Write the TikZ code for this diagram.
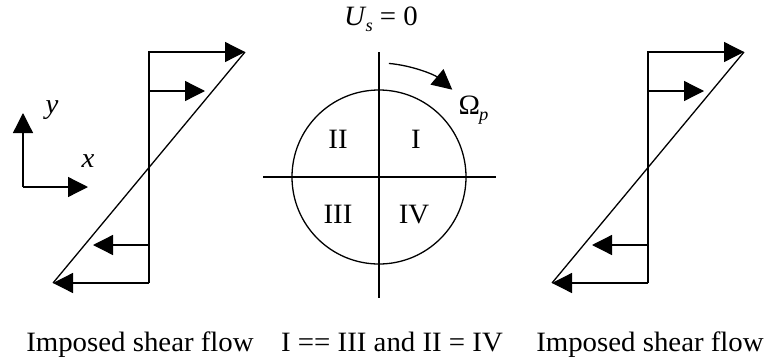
\documentclass[tikz,border=0pt]{standalone}
\usepackage{fontspec}
\setmainfont[FakeStretch=1.03]{Liberation Serif}
\usetikzlibrary{arrows.meta,calc}
\begin{document}
\begin{tikzpicture}[x=1pt,y=-1pt,line width=1.3pt,
  tip/.style={-{Triangle[length=20pt,width=20pt]}},
  lbl/.style={font=\fontsize{28}{30}\selectfont,inner sep=0pt,anchor=base}]
\useasboundingbox (0,0) rectangle (768,362);
% shear flow panels
\foreach \s/\n in {0/L,499/R}{
  \begin{scope}[xshift=\s pt]
    \coordinate (\n-top) at (149,52);
    \coordinate (\n-bot) at (149,283);
    \coordinate (\n-m2) at (149,91);
    \coordinate (\n-m3) at (149,245);
    \coordinate (\n-t1) at (245,52);
    \coordinate (\n-t2) at (205,91);
    \coordinate (\n-b2) at (93,245);
    \coordinate (\n-b1) at (53,283);
    \draw (\n-t1) -- (\n-b1);
    \draw[tip] (\n-bot) -- (\n-top) -- (\n-t1);
    \draw[tip] (\n-bot) -- (\n-b1);
    \draw[tip] (\n-m2) -- (\n-t2);
    \draw[tip] (\n-m3) -- (\n-b2);
  \end{scope}
}
% axes
\coordinate (O) at (23,187);
\coordinate (Y) at (23,113);
\coordinate (X) at (88,187);
\draw[tip] (O) -- (Y);
\draw[tip] (O) -- (X);
\node[lbl] (ylab) at (52,113) {\textit{y}};
\node[lbl] (xlab) at (88,167) {\textit{x}};
% circle
\node[circle,draw,minimum size=174pt,inner sep=0pt] (C) at (379,177) {};
\coordinate (HL) at (263,177);
\coordinate (HR) at (496,177);
\coordinate (VT) at (379,52);
\coordinate (VB) at (379,298);
\draw (HL) -- (HR);
\draw (VT) -- (VB);
\coordinate (A0) at ($(C.center)+(-85:114)$);
\draw[tip] (A0) arc[start angle=85,end angle=50,radius=114pt];
\node[lbl] (q1) at (416,148) {I};
\node[lbl] (q2) at (338,148) {II};
\node[lbl] (q3) at (338,223) {III};
\node[lbl] (q4) at (414,223) {IV};
\node[lbl] (us) at (381,25) {\textit{U}\kern-1pt\raisebox{-6pt}{\fontsize{18}{18}\selectfont\textit{s}} = 0};
\node[lbl,anchor=base west] (om) at (458,114) {Ω\kern-1pt\raisebox{-6pt}{\fontsize{18}{18}\selectfont\textit{p}}};
% captions
\node[lbl] (capL) at (140,351) {Imposed shear flow};
\node[lbl] (capM) at (392,351) {I == III and II = IV};
\node[lbl] (capR) at (650,351) {Imposed shear flow};
\end{tikzpicture}
\end{document}
